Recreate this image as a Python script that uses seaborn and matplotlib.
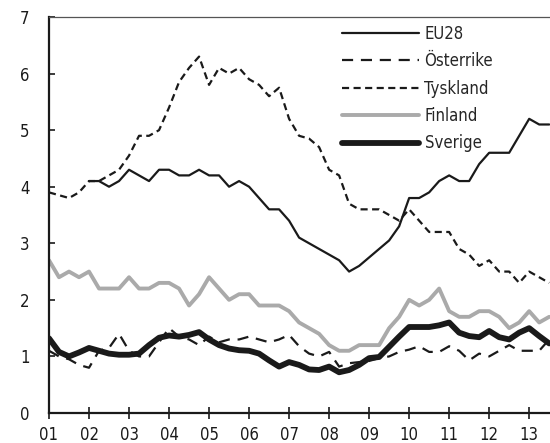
import numpy as np
import pandas as pd
import matplotlib
matplotlib.use("Agg")
import matplotlib.pyplot as plt
import seaborn as sns

# quarterly values 2001Q1 .. 2013Q3
years = ["01", "02", "03", "04", "05", "06", "07", "08", "09", "10", "11", "12", "13"]

eu28 = [np.nan, np.nan, np.nan, np.nan,
        4.1, 4.1, 4.0, 4.1, 4.3, 4.2, 4.1, 4.3, 4.3, 4.2, 4.2, 4.3,
        4.2, 4.2, 4.0, 4.1, 4.0, 3.8, 3.6, 3.6, 3.4, 3.1, 3.0, 2.9,
        2.8, 2.7, 2.5, 2.6, 2.75, 2.9, 3.05, 3.3, 3.8, 3.8, 3.9, 4.1,
        4.2, 4.1, 4.1, 4.4, 4.6, 4.6, 4.6, 4.9, 5.2, 5.1, 5.1]

osterrike = [1.1, 1.0, 0.95, 0.85, 0.8, 1.1, 1.15, 1.4, 1.1, 1.0, 1.0, 1.25,
             1.5, 1.35, 1.3, 1.2, 1.35, 1.25, 1.3, 1.3, 1.35, 1.3, 1.25, 1.3,
             1.38, 1.18, 1.05, 1.0, 1.08, 0.82, 0.88, 0.9, 0.92, 0.97, 1.0, 1.08,
             1.12, 1.18, 1.08, 1.08, 1.18, 1.1, 0.93, 1.05, 1.0, 1.1, 1.2, 1.1,
             1.1, 1.1, 1.3]

tyskland = [3.9, 3.85, 3.8, 3.9, 4.1, 4.1, 4.2, 4.3, 4.55, 4.9, 4.9, 5.0,
            5.4, 5.85, 6.1, 6.3, 5.8, 6.1, 6.0, 6.1, 5.9, 5.8, 5.6, 5.75,
            5.2, 4.9, 4.85, 4.7, 4.3, 4.2, 3.7, 3.6, 3.6, 3.6, 3.5, 3.4,
            3.6, 3.4, 3.2, 3.2, 3.2, 2.9, 2.8, 2.6, 2.7, 2.5, 2.5, 2.3,
            2.5, 2.4, 2.3]

finland = [2.7, 2.4, 2.5, 2.4, 2.5, 2.2, 2.2, 2.2, 2.4, 2.2, 2.2, 2.3,
           2.3, 2.2, 1.9, 2.1, 2.4, 2.2, 2.0, 2.1, 2.1, 1.9, 1.9, 1.9,
           1.8, 1.6, 1.5, 1.4, 1.2, 1.1, 1.1, 1.2, 1.2, 1.2, 1.5, 1.7,
           2.0, 1.9, 2.0, 2.2, 1.8, 1.7, 1.7, 1.8, 1.8, 1.7, 1.5, 1.6,
           1.8, 1.6, 1.7]

sverige = [1.32, 1.08, 1.0, 1.07, 1.15, 1.1, 1.05, 1.03, 1.03, 1.05, 1.2, 1.33,
           1.37, 1.35, 1.38, 1.43, 1.3, 1.2, 1.14, 1.11, 1.1, 1.05, 0.93, 0.82,
           0.9, 0.85, 0.77, 0.76, 0.82, 0.72, 0.76, 0.85, 0.97, 0.99, 1.17, 1.35,
           1.52, 1.52, 1.52, 1.55, 1.6, 1.42, 1.36, 1.34, 1.45, 1.34, 1.3, 1.42,
           1.5, 1.36, 1.23]

t = 1 + np.arange(len(sverige)) / 4
df = pd.DataFrame({"t": t, "EU28": eu28, "Österrike": osterrike,
                   "Tyskland": tyskland, "Finland": finland, "Sverige": sverige})

sns.set_style("ticks")
plt.rcParams["font.family"] = ["DejaVu Sans"]
plt.rcParams["font.stretch"] = "condensed"

fig = plt.figure(figsize=(5.5, 4.43), dpi=100)
ax = fig.add_axes([49 / 550, 30 / 443, 1 - 49 / 550, 396 / 443])

styles = {
    "EU28": dict(color="#1a1a1a", linewidth=1.6, linestyle="-"),
    "Österrike": dict(color="#1a1a1a", linewidth=1.6, linestyle=(0, (5, 3.5))),
    "Tyskland": dict(color="#1a1a1a", linewidth=1.6, linestyle=(0, (3.2, 2))),
    "Finland": dict(color="#aaaaaa", linewidth=2.8, linestyle="-"),
    "Sverige": dict(color="#1a1a1a", linewidth=4.2, linestyle="-"),
}
for name, kw in styles.items():
    sns.lineplot(data=df, x="t", y=name, ax=ax, label=name, **kw)

ax.set_xlim(1, 13.52)
ax.set_ylim(0, 7)
ax.set_xticks(range(1, 14))
ax.set_xticklabels(years)
ax.set_yticks(range(0, 8))
ax.set_xlabel("")
ax.set_ylabel("")

ax.tick_params(axis="y", direction="in", length=4, width=1.2, pad=14,
               labelsize=12, colors="#1a1a1a")
ax.tick_params(axis="x", direction="inout", length=9, width=1.2, pad=4.5,
               labelsize=12, colors="#1a1a1a")
for s in ["left", "bottom"]:
    ax.spines[s].set_linewidth(1.6)
    ax.spines[s].set_color("#1a1a1a")
ax.spines["top"].set_visible(True)
ax.spines["top"].set_linewidth(0.9)
ax.spines["top"].set_color("#555555")
ax.spines["right"].set_visible(False)

ax.legend(loc="upper left", bbox_to_anchor=(342 / 550, 1 - 25 / 443),
          bbox_transform=fig.transFigure, frameon=False, fontsize=12,
          handlelength=4.6, handletextpad=0.35, labelspacing=0.56,
          borderpad=0, borderaxespad=0)

fig.savefig("out.png", dpi=100)
